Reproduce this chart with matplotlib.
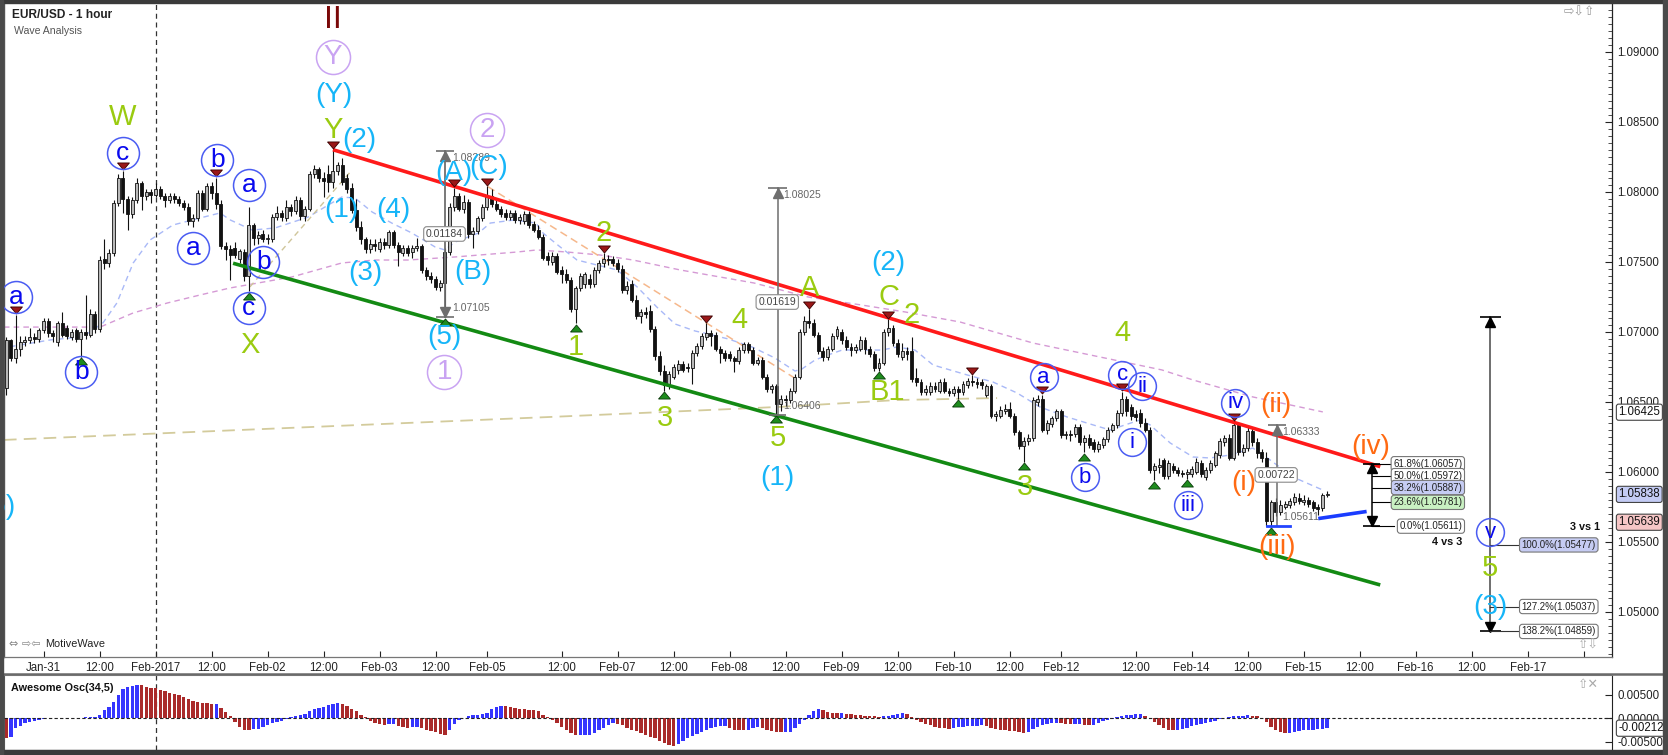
import numpy as np
import matplotlib
matplotlib.use("Agg")
import matplotlib.pyplot as plt
import matplotlib.transforms as mtransforms
from matplotlib.ticker import MultipleLocator, FixedLocator
from matplotlib.patches import Rectangle
from matplotlib.lines import Line2D

plt.rcParams['font.family'] = ['Liberation Sans', 'DejaVu Sans']

# ------------------------------------------------------------------ data
first_bar = -8   # bar index of first candle (hourly bars, weekend removed)

opens = [
 1.0660,1.0694,1.0681,1.0688,1.0693,1.0694,1.0696,1.0695,1.0701,1.0708,1.0699,1.0693,
 1.0706,1.0703,1.0696,1.0701,1.0695,1.0700,1.0698,1.0713,1.0702,1.0752,1.0749,1.0756,
 1.0792,1.0810,1.0795,1.0784,1.0794,1.0806,1.0797,1.0800,1.0798,1.0802,1.0797,1.0794,
 1.0797,1.0795,1.0792,1.0789,1.0779,1.0781,1.0799,1.0788,1.0804,1.0799,1.0791,1.0761,
 1.0759,1.0760,1.0752,1.0757,1.0740,1.0776,1.0767,1.0770,1.0766,1.0766,1.0782,1.0785,
 1.0781,1.0789,1.0786,1.0794,1.0783,1.0788,1.0813,1.0816,1.0810,1.0813,1.0807,1.0815,
 1.0819,1.0810,1.0803,1.0787,1.0775,1.0766,1.0759,1.0763,1.0759,1.0764,1.0762,1.0771,
 1.0762,1.0756,1.0760,1.0757,1.0760,1.0761,1.0744,1.0740,1.0738,1.0732,1.0735,1.0757,
 1.0789,1.0797,1.0788,1.0793,1.0770,1.0772,1.0781,1.0789,1.0797,1.0791,1.0788,1.0785,
 1.0782,1.0785,1.0780,1.0779,1.0784,1.0777,1.0773,1.0768,1.0754,1.0750,1.0754,1.0744,
 1.0741,1.0737,1.0716,1.0731,1.0734,1.0738,1.0734,1.0744,1.0749,1.0752,1.0752,1.0749,
 1.0745,1.0730,1.0734,1.0723,1.0711,1.0714,1.0715,1.0702,1.0683,1.0672,1.0662,1.0668,
 1.0673,1.0677,1.0675,1.0674,1.0685,1.0690,1.0696,1.0699,1.0698,1.0688,1.0685,1.0684,
 1.0681,1.0679,1.0687,1.0691,1.0687,1.0678,1.0680,1.0668,1.0659,1.0661,1.0648,1.0652,
 1.0651,1.0658,1.0668,1.0700,1.0708,1.0706,1.0698,1.0686,1.0682,1.0688,1.0697,1.0700,
 1.0694,1.0689,1.0687,1.0688,1.0694,1.0688,1.0684,1.0674,1.0678,1.0700,1.0703,1.0692,
 1.0682,1.0686,1.0686,1.0667,1.0664,1.0657,1.0657,1.0661,1.0658,1.0664,1.0658,1.0656,
 1.0659,1.0657,1.0662,1.0665,1.0664,1.0664,1.0655,1.0661,1.0640,1.0640,1.0643,1.0645,
 1.0640,1.0628,1.0618,1.0622,1.0624,1.0650,1.0652,1.0630,1.0634,1.0638,1.0643,1.0626,
 1.0627,1.0627,1.0632,1.0621,1.0624,1.0621,1.0616,1.0619,1.0623,1.0630,1.0633,1.0642,
 1.0652,1.0646,1.0641,1.0642,1.0635,1.0630,1.0601,1.0603,1.0608,1.0597,1.0604,1.0601,
 1.0599,1.0598,1.0598,1.0600,1.0606,1.0596,1.0601,1.0605,1.0612,1.0621,1.0624,1.0610,
 1.0633,1.0614,1.0617,1.0629,1.0621,1.0614,1.0610,1.0565,1.0578,1.0571,1.0575,1.0576,
 1.0578,1.0581,1.0578,1.0580,1.0578,1.0575,1.0574,1.0583]

highs = [
 1.0696,1.0695,1.0712,1.0697,1.0697,1.0703,1.0699,1.0703,1.0710,1.0710,1.0701,1.0708,
 1.0714,1.0705,1.0702,1.0703,1.0702,1.0726,1.0716,1.0715,1.0754,1.0766,1.0759,1.0794,
 1.0813,1.0815,1.0797,1.0796,1.0810,1.0808,1.0802,1.0802,1.0806,1.0804,1.0799,1.0799,
 1.0799,1.0797,1.0794,1.0792,1.0784,1.0801,1.0801,1.0806,1.0807,1.0810,1.0794,1.0764,
 1.0762,1.0764,1.0759,1.0759,1.0789,1.0778,1.0772,1.0773,1.0770,1.0784,1.0790,1.0787,
 1.0794,1.0791,1.0797,1.0796,1.0790,1.0815,1.0819,1.0818,1.0814,1.0819,1.0830,1.0821,
 1.0824,1.0813,1.0806,1.0795,1.0779,1.0768,1.0766,1.0766,1.0767,1.0767,1.0773,1.0773,
 1.0764,1.0762,1.0762,1.0762,1.0767,1.0763,1.0746,1.0743,1.0740,1.0737,1.0760,1.0792,
 1.0803,1.0799,1.0798,1.0795,1.0775,1.0783,1.0791,1.0804,1.0802,1.0794,1.0790,1.0788,
 1.0787,1.0787,1.0784,1.0786,1.0786,1.0779,1.0776,1.0770,1.0757,1.0757,1.0756,1.0747,
 1.0745,1.0739,1.0733,1.0742,1.0743,1.0741,1.0746,1.0751,1.0756,1.0755,1.0754,1.0752,
 1.0748,1.0736,1.0737,1.0726,1.0716,1.0718,1.0719,1.0704,1.0686,1.0676,1.0672,1.0677,
 1.0680,1.0679,1.0678,1.0687,1.0692,1.0699,1.0706,1.0701,1.0700,1.0690,1.0687,1.0686,
 1.0683,1.0689,1.0693,1.0693,1.0689,1.0682,1.0682,1.0670,1.0663,1.0663,1.0655,1.0655,
 1.0660,1.0670,1.0702,1.0711,1.0716,1.0709,1.0700,1.0689,1.0690,1.0699,1.0704,1.0702,
 1.0697,1.0692,1.0691,1.0697,1.0696,1.0690,1.0686,1.0681,1.0702,1.0709,1.0705,1.0695,
 1.0692,1.0689,1.0696,1.0674,1.0666,1.0662,1.0664,1.0664,1.0666,1.0667,1.0660,1.0661,
 1.0661,1.0665,1.0667,1.0669,1.0667,1.0666,1.0663,1.0663,1.0643,1.0647,1.0648,1.0650,
 1.0642,1.0630,1.0625,1.0627,1.0653,1.0655,1.0655,1.0637,1.0640,1.0645,1.0645,1.0629,
 1.0630,1.0634,1.0634,1.0626,1.0627,1.0623,1.0622,1.0625,1.0632,1.0635,1.0644,1.0657,
 1.0654,1.0648,1.0644,1.0645,1.0638,1.0632,1.0606,1.0610,1.0610,1.0608,1.0606,1.0603,
 1.0601,1.0602,1.0604,1.0610,1.0608,1.0603,1.0608,1.0615,1.0624,1.0626,1.0627,1.0636,
 1.0635,1.0620,1.0633,1.0631,1.0624,1.0616,1.0614,1.0580,1.0581,1.0580,1.0579,1.0581,
 1.0585,1.0585,1.0583,1.0582,1.0580,1.0577,1.0585,1.0586]

lows = [
 1.0655,1.0679,1.0678,1.0683,1.0690,1.0692,1.0692,1.0693,1.0699,1.0696,1.0693,1.0690,
 1.0696,1.0695,1.0694,1.0693,1.0682,1.0695,1.0696,1.0699,1.0700,1.0745,1.0746,1.0754,
 1.0790,1.0785,1.0773,1.0781,1.0792,1.0787,1.0794,1.0792,1.0796,1.0795,1.0789,1.0792,
 1.0792,1.0790,1.0787,1.0776,1.0775,1.0779,1.0786,1.0786,1.0795,1.0788,1.0759,1.0751,
 1.0737,1.0753,1.0749,1.0736,1.0729,1.0762,1.0763,1.0764,1.0763,1.0764,1.0780,1.0779,
 1.0779,1.0783,1.0784,1.0780,1.0779,1.0786,1.0810,1.0807,1.0796,1.0800,1.0803,1.0812,
 1.0805,1.0799,1.0785,1.0772,1.0763,1.0756,1.0756,1.0758,1.0757,1.0759,1.0760,1.0760,
 1.0747,1.0754,1.0754,1.0753,1.0758,1.0742,1.0737,1.0735,1.0730,1.0729,1.07105,1.0755,
 1.0786,1.0786,1.0785,1.0767,1.0760,1.0770,1.0779,1.0787,1.0789,1.0786,1.0782,1.0780,
 1.0780,1.0778,1.0777,1.0777,1.0774,1.0771,1.0766,1.0751,1.0748,1.0748,1.0741,1.0735,
 1.0735,1.0714,1.0706,1.0729,1.0731,1.0731,1.0732,1.0742,1.0746,1.0748,1.0747,1.0743,
 1.0728,1.0727,1.0721,1.0709,1.0706,1.0710,1.0700,1.0680,1.0669,1.0658,1.0659,1.0666,
 1.0670,1.0671,1.0671,1.0663,1.0683,1.0688,1.0694,1.0690,1.0686,1.0678,1.0679,1.0679,
 1.0671,1.0677,1.0685,1.0685,1.0676,1.0676,1.0666,1.0657,1.0656,1.06406,1.0643,1.0647,
 1.0649,1.0656,1.0666,1.0698,1.0703,1.0696,1.0684,1.0679,1.0680,1.0686,1.0695,1.0691,
 1.0687,1.0683,1.0685,1.0686,1.0684,1.0682,1.0672,1.0672,1.0676,1.0697,1.0690,1.0682,
 1.0680,1.0680,1.0664,1.0661,1.0655,1.0655,1.0655,1.0657,1.0656,1.0656,1.0654,1.0654,
 1.0652,1.0655,1.0660,1.0661,1.0660,1.0659,1.0653,1.0638,1.0636,1.0638,1.0641,1.0638,
 1.0626,1.0616,1.0607,1.0619,1.0622,1.0647,1.0628,1.0627,1.0632,1.0636,1.0624,1.0623,
 1.0622,1.0625,1.0619,1.0614,1.0617,1.0614,1.0614,1.0617,1.0621,1.0628,1.0631,1.0640,
 1.0640,1.0637,1.0636,1.0632,1.0628,1.0599,1.0594,1.0599,1.0595,1.0595,1.0599,1.0597,
 1.0596,1.0595,1.0596,1.0598,1.0596,1.0594,1.0599,1.0603,1.0610,1.0618,1.0608,1.0608,
 1.0612,1.0611,1.0615,1.0618,1.0610,1.0607,1.05611,1.0561,1.0568,1.0569,1.0573,1.0574,
 1.0576,1.0577,1.0576,1.0575,1.0572,1.0569,1.0572,1.0582]

closes = [
 1.0694,1.0681,1.0688,1.0693,1.0694,1.0696,1.0695,1.0701,1.0708,1.0699,1.0697,1.0706,
 1.0698,1.0697,1.0700,1.0695,1.0700,1.0698,1.0713,1.0702,1.0751,1.0749,1.0756,1.0792,
 1.0810,1.0795,1.0784,1.0794,1.0806,1.0797,1.0800,1.0798,1.0802,1.0797,1.0794,1.0797,
 1.0795,1.0792,1.0789,1.0779,1.0781,1.0799,1.0788,1.0804,1.0799,1.0791,1.0761,1.0759,
 1.0755,1.0755,1.0758,1.0740,1.0776,1.0767,1.0769,1.0766,1.0767,1.0782,1.0785,1.0782,
 1.0789,1.0786,1.0794,1.0783,1.0788,1.0813,1.0816,1.0810,1.0808,1.0807,1.0815,1.0819,
 1.0807,1.0802,1.0787,1.0775,1.0766,1.0759,1.0763,1.0761,1.0764,1.0762,1.0771,1.0762,
 1.0757,1.0760,1.0756,1.0760,1.0761,1.0744,1.0740,1.0738,1.0732,1.0735,1.0757,1.0789,
 1.0797,1.0788,1.0793,1.0770,1.0772,1.0781,1.0789,1.0797,1.0791,1.0788,1.0784,1.0782,
 1.0785,1.0780,1.0782,1.0784,1.0776,1.0773,1.0768,1.0753,1.0751,1.0754,1.0743,1.0741,
 1.0737,1.0716,1.0731,1.0740,1.0741,1.0734,1.0744,1.0749,1.0752,1.0751,1.0749,1.0745,
 1.0730,1.0733,1.0723,1.0711,1.0714,1.0713,1.0702,1.0683,1.0672,1.0662,1.0670,1.0675,
 1.0677,1.0673,1.0674,1.0685,1.0690,1.0697,1.0699,1.0697,1.0688,1.0685,1.0681,1.0681,
 1.0679,1.0687,1.0691,1.0687,1.0678,1.0680,1.0668,1.0659,1.0661,1.0648,1.0652,1.0651,
 1.0658,1.0668,1.0700,1.0708,1.0706,1.0698,1.0686,1.0682,1.0688,1.0697,1.0702,1.0694,
 1.0689,1.0687,1.0689,1.0694,1.0688,1.0684,1.0674,1.0678,1.0700,1.0703,1.0692,1.0684,
 1.0686,1.0684,1.0666,1.0664,1.0657,1.0659,1.0661,1.0659,1.0664,1.0658,1.0656,1.0659,
 1.0657,1.0663,1.0665,1.0664,1.0663,1.0662,1.0661,1.0640,1.0641,1.0644,1.0645,1.0640,
 1.0628,1.0618,1.0622,1.0624,1.0651,1.0652,1.0630,1.0635,1.0638,1.0643,1.0626,1.0627,
 1.0626,1.0632,1.0621,1.0624,1.0619,1.0616,1.0620,1.0623,1.0630,1.0633,1.0642,1.0652,
 1.0643,1.0640,1.0639,1.0635,1.0630,1.0601,1.0604,1.0605,1.0597,1.0606,1.0601,1.0599,
 1.0598,1.0600,1.0602,1.0607,1.0598,1.0601,1.0606,1.0613,1.0622,1.0624,1.0610,1.0633,
 1.0614,1.0617,1.0629,1.0621,1.0613,1.0610,1.0565,1.0578,1.0571,1.0576,1.0577,1.0579,
 1.0582,1.0579,1.0580,1.0577,1.0574,1.0573,1.0583,1.05838]

# Awesome oscillator, in units of 1e-4
ao_values = [
 -43,-39,-21,-16,-11,-8,-5,-3,-1,1,1,0.5,
 1,0.5,0.3,1,1,2,2,3,7,17,24,34,
 50,62,67,70,72,71,68,66,64,61,58,55,
 52,49,45,41,38,35,33,32,30,31,22,13,
 5,-8,-18,-25,-26,-23,-22,-18,-14,-11,-8,-6,
 -1,2,5,8,10,15,20,23,25,29,31,32,
 30,26,21,15,8,2,-5,-9,-12,-14,-13,-12,
 -16,-19,-20,-19,-18,-20,-25,-27,-30,-34,-35,-24,
 -12,-4,1,6,7,8,9,12,19,25,27,26,
 25,23,21,19,18,17,15,7,2,-4,-10,-18,
 -25,-31,-36,-36,-36,-35,-32,-26,-20,-14,-11,-12,
 -15,-20,-25,-28,-31,-35,-39,-43,-48,-53,-57,-59,
 -55,-49,-43,-38,-33,-29,-25,-21,-18,-17,-16,-21,
 -24,-25,-26,-24,-21,-19,-20,-24,-27,-29,-30,-30,
 -29,-20,-12,-3,8,15,19,18,14,12,11,11,
 10,9,8,7,6,5,4,3,4,6,8,10,
 11,9,3,-3,-8,-12,-15,-18,-20,-21,-22,-20,
 -19,-18,-17,-17,-16,-15,-17,-20,-22,-24,-26,-27,
 -28,-30,-31,-29,-22,-18,-15,-12,-10,-9,-11,-12,
 -13,-13,-12,-14,-15,-14,-10,-6,-3,-1,2,5,
 7,8,9,9,6,0,-8,-15,-20,-24,-25,-24,
 -22,-20,-17,-15,-13,-10,-8,-5,-2,1,3,5,
 6,6,7,6,5,1,-8,-18,-26,-30,-32,-31,
 -29,-27,-26,-25,-24,-23,-22,-21.2]

# moving averages (bar index, price)
ma_fast_bar = [-7.2,1.4,8.4,12.7,15.7,19.2,22.8,27.7,33.5,37.8,40,44.7,49.6,56.7,60.3,
               63.9,66.7,70.4,74.6,78.9,83.9,86,88.2,93.2,95.7,100.8,105.5,107,110.7,114.3,
               118.6,122.9,127.2,131.4,135.3,139.6,142.4,146.7,151.8,156.7,161,162.5,165.3,
               168.1,171.1,175.4,179.6,182.9,186.7,190.6,197.9,203.4,208.6,213.5,219.3,
               224.9,228.5,231.7,234.9,237.1,241.4,246.3,249.9,254.2,259.1,262.8,267.7,274.1]
ma_fast_val = [1.06893,1.06941,1.06964,1.07062,1.07205,1.07491,1.07655,1.07762,1.07812,1.07848,
               1.07798,1.07726,1.07741,1.07819,1.07891,1.07962,1.07955,1.07855,1.07776,1.07705,
               1.07605,1.07584,1.07641,1.07705,1.07776,1.07798,1.07776,1.07705,1.07605,1.07512,
               1.07476,1.07441,1.07319,1.07176,1.07055,1.07005,1.06984,1.06948,1.06891,1.06812,
               1.06719,1.06734,1.06798,1.06834,1.06869,1.06869,1.06869,1.06891,1.06869,1.06762,
               1.06691,1.06641,1.06562,1.06462,1.06391,1.06334,1.06298,1.06334,1.06369,1.06334,
               1.06205,1.06105,1.06098,1.06119,1.06169,1.06084,1.05962,1.05869]
ma_slow_bar = [-8.5,12.1,19.2,26.5,33.5,39.9,53.2,63.9,71,78.1,88.2,101.4,105.7,112.2,119.2,
               126.3,136.4,152.2,163.8,175.2,184.6,196.4,212,226.4,239.6,246.3,259.1,274.1]
ma_slow_val = [1.07033,1.07033,1.07134,1.07205,1.07262,1.07312,1.07391,1.07491,1.07512,1.07512,
               1.07534,1.07569,1.07584,1.07569,1.07548,1.07512,1.07441,1.07348,1.07248,1.07191,
               1.07141,1.07069,1.06919,1.06819,1.06727,1.06655,1.06534,1.06427]
ma_long_bar = [-8.5, 110, 158.4, 182.9, 204.3]
ma_long_val = [1.06227, 1.06393, 1.06464, 1.06512, 1.06526]

tick_bars = [0,12,24,36,48,60,72,84,95,111,123,135,147,159,171,183,195,207,218,234,
             246,258,270,282,294,306,318,330]
tick_labels = ["Jan-31","12:00","Feb-2017","12:00","Feb-02","12:00","Feb-03","12:00",
               "Feb-05","12:00","Feb-07","12:00","Feb-08","12:00","Feb-09","12:00",
               "Feb-10","12:00","Feb-12","12:00","Feb-14","12:00","Feb-15","12:00",
               "Feb-16","12:00","Feb-17",""]

peak_bars = [-6, 17, 37, 62, 88, 95, 120, 142, 164, 181, 199, 214, 231, 255]
trough_bars = [8, 44, 86, 114, 133, 157, 179, 196, 210, 223, 238, 245, 263]

fib_levels = [("61.8%", 1.06057), ("50.0%", 1.05972), ("38.2%", 1.05887),
              ("23.6%", 1.05781), ("0.0%", 1.05611)]
target_levels = [("100.0%", 1.05477), ("127.2%", 1.05037), ("138.2%", 1.04859)]

n = len(opens)
assert n == len(highs) == len(lows) == len(closes) == len(ao_values) == 284

# ------------------------------------------------------------------ figure
W, H = 1668, 755
fig = plt.figure(figsize=(W / 100, H / 100), dpi=100)
fig.patch.set_facecolor('white')

def fx(px):
    return px / W

def fy(py):
    return 1 - py / H

ax = fig.add_axes([fx(4), fy(657), fx(1612) - fx(4), fy(3) - fy(657)])
osc = fig.add_axes([fx(4), fy(750), fx(1612) - fx(4), fy(675) - fy(750)])

XMIN, XMAX = -8.485, 336.06
ax.set_xlim(XMIN, XMAX)
ax.set_ylim(1.046764, 1.093479)
osc.set_xlim(XMIN, XMAX)
osc.set_ylim(-0.00679, 0.00928)

bars = np.arange(first_bar, first_bar + n)
o = np.array(opens); h = np.array(highs); l = np.array(lows); c = np.array(closes)

# ---- moving averages / helper dashed lines
ax.plot(ma_long_bar, ma_long_val, color='#d3cb9c', lw=1.3, ls=(0, (7, 4)), zorder=1.2)
ax.plot(ma_slow_bar, ma_slow_val, color='#d59ad5', lw=1.0, ls=(0, (4, 3)), zorder=1.3)
ax.plot(ma_fast_bar, ma_fast_val, color='#a9b9f7', lw=1.0, ls=(0, (4, 3)), zorder=1.4)
ax.plot([44.2, 66.1], [1.07320, 1.08156], color='#cfc59a', lw=1.0, ls=(0, (4, 3)), zorder=1.5)
ax.plot([95.2, 161.6], [1.08036, 1.06655], color='#f6b88c', lw=1.1, ls=(0, (5, 3)), zorder=1.5)

# ---- candles
ax.vlines(bars, l, h, color='#111111', lw=0.8, zorder=2)
up = c >= o
blo = np.minimum(o, c)
bh = np.maximum(np.abs(c - o), 0.00004)
ax.bar(bars[up], bh[up], bottom=blo[up], width=0.64, color='#b9b9b9',
       edgecolor='#111111', linewidth=0.6, zorder=3)
ax.bar(bars[~up], bh[~up], bottom=blo[~up], width=0.64, color='#111111',
       edgecolor='#111111', linewidth=0.6, zorder=3)

# ---- vertical day separator
for a in (ax, osc):
    a.axvline(24, color='#333333', lw=0.9, ls=(0, (4, 3)), zorder=1)

# ---- channel lines
ax.plot([62, 286.4], [1.0830, 1.06036], color='#ff1a1a', lw=2.6, zorder=4, solid_capstyle='butt')
ax.plot([40.6, 286.4], [1.07489, 1.05191], color='#138a13', lw=2.6, zorder=4, solid_capstyle='butt')

# ---- swing markers
tri_down = [(-1, 0.6), (1, 0.6), (0, -0.6), (-1, 0.6)]
tri_up = [(-1, -0.6), (1, -0.6), (0, 0.6), (-1, -0.6)]
t_up = mtransforms.offset_copy(ax.transData, fig=fig, x=0, y=3.3, units='points')
t_dn = mtransforms.offset_copy(ax.transData, fig=fig, x=0, y=-3.3, units='points')
for b in peak_bars:
    ax.plot([b], [h[b - first_bar]], marker=tri_down, ms=8.5, mfc='#9a1818', mec='#3a0000',
            mew=0.6, ls='none', transform=t_up, zorder=5)
for b in trough_bars:
    ax.plot([b], [l[b - first_bar]], marker=tri_up, ms=8.5, mfc='#1e8c1e', mec='#0a3a0a',
            mew=0.6, ls='none', transform=t_dn, zorder=5)

# ---- measuring tools
def tbar(x, y, hw, color, lw=1.2):
    ax.plot([x - hw, x + hw], [y, y], color=color, lw=lw, zorder=5, solid_capstyle='butt')

def arrowhead(x, y, up_dir, color, ms=6.5):
    tr = mtransforms.offset_copy(ax.transData, fig=fig, x=0, y=(-3.4 if up_dir else 3.4), units='points')
    ax.plot([x], [y], marker='^' if up_dir else 'v', ms=ms, color=color, mec=color,
            transform=tr, ls='none', zorder=5)

def boxlabel(x, y, txt, fc='white', ha='center', size=7.5, color='#444444', ec='#8a8a8a'):
    ax.text(x, y, txt, ha=ha, va='center', fontsize=size, color=color, zorder=9,
            bbox=dict(boxstyle='round,pad=0.22,rounding_size=0.3', fc=fc, ec=ec, lw=0.8))

GR = '#6e6e6e'
# (5) -> (2) distance
ax.plot([86, 86], [1.07105, 1.08289], color=GR, lw=1.3, zorder=5)
tbar(86, 1.08289, 2.0, GR); tbar(86, 1.07105, 2.0, GR)
arrowhead(86, 1.08289, True, GR); arrowhead(86, 1.07105, False, GR)
boxlabel(85.9, 1.07698, "0.01184")
ax.text(87.6, 1.08240, "1.08289", fontsize=7.5, color='#666666', va='center', zorder=6)
ax.text(87.6, 1.07169, "1.07105", fontsize=7.5, color='#666666', va='center', zorder=6)
# wave (1) size
ax.plot([157.3, 157.3], [1.06406, 1.08025], color=GR, lw=1.1, zorder=5)
tbar(157.3, 1.08025, 2.0, GR); tbar(157.3, 1.06406, 1.8, GR)
arrowhead(157.3, 1.08025, True, GR)
boxlabel(157.2, 1.07212, "0.01619")
ax.text(158.5, 1.07976, "1.08025", fontsize=7.5, color='#666666', va='center', zorder=6)
ax.text(158.5, 1.06469, "1.06406", fontsize=7.5, color='#666666', va='center', zorder=6)
# (ii) -> (iii)
ax.plot([264.3, 264.3], [1.05611, 1.06333], color=GR, lw=1.1, zorder=5)
tbar(264.3, 1.06333, 2.0, GR)
arrowhead(264.3, 1.06333, True, GR)
boxlabel(264.1, 1.05977, "0.00722")
ax.text(265.4, 1.06284, "1.06333", fontsize=7.5, color='#666666', va='center', zorder=6)
ax.text(265.4, 1.05677, "1.05611", fontsize=7.5, color='#666666', va='center', zorder=6)

# blue helper lines
ax.plot([262.2, 267.1], [1.05615, 1.05615], color='#2244ff', lw=2.0, zorder=5)
ax.plot([273.5, 283.1], [1.05667, 1.05714], color='#1a3cff', lw=2.6, zorder=5)

# fib retracement for (iv)
FX = 284.6
ax.plot([FX, FX], [1.05611, 1.06057], color='black', lw=1.1, zorder=5)
tbar(FX, 1.06057, 1.8, 'black'); tbar(FX, 1.05611, 1.8, 'black')
arrowhead(FX, 1.06057, True, 'black'); arrowhead(FX, 1.05611, False, 'black')
fib_bg = ['white', 'white', '#c6ccf3', '#c9f1c2', 'white']
for (pct, lev), bg in zip(fib_levels, fib_bg):
    ax.plot([FX, 289.3], [lev, lev], color='black', lw=0.8, zorder=5)
    boxlabel(304.0, lev, f"{pct}({lev:.5f})", fc=bg, ha='right', size=7, color='#222222', ec='#777777')
ax.text(303.9, 1.05500, "4 vs 3", fontsize=7.8, weight='bold', ha='right', va='center', color='#111111', zorder=6)

# target projection for wave (3)
TX = 310.0
ax.plot([TX, TX], [1.04859, 1.07105], color='#555555', lw=1.2, zorder=5)
tbar(TX, 1.07105, 2.2, 'black'); tbar(TX, 1.04859, 2.2, 'black')
arrowhead(TX, 1.07105, True, 'black'); arrowhead(TX, 1.04859, False, 'black')
tgt_bg = ['#c6ccf3', 'white', 'white']
for (pct, lev), bg in zip(target_levels, tgt_bg):
    ax.plot([TX, 316.6], [lev, lev], color='#333333', lw=0.8, zorder=5)
    boxlabel(316.7, lev, f"{pct}({lev:.5f})", fc=bg, ha='left', size=7, color='#222222', ec='#777777')
ax.text(333.5, 1.05605, "3 vs 1", fontsize=7.8, weight='bold', ha='right', va='center', color='#111111', zorder=6)

# ---- wave labels
CYAN = '#16b5f8'; LIME = '#9acb10'; BLUE = '#0a0aee'; CIRC = '#4a5cf2'
ORANGE = '#ff6a12'; LAV = '#c9a3f2'; MAROON = '#7a0808'

def lbl(txt, x, y, color, size):
    ax.text(x, y, txt, color=color, fontsize=size, ha='center', va='center', zorder=8, clip_on=True)

def circled(txt, x, y, color, ec, size, ms):
    ax.plot([x], [y], 'o', ms=ms, mfc='none', mec=ec, mew=1.1, zorder=7)
    lbl(txt, x, y, color, size)

lbl("II", 62.0, 1.09226, MAROON, 23)
for t, x, y in [("(Y)", 62.2, 1.08691), ("(2)", 67.6, 1.08369), ("(1)", 63.7, 1.07869),
                ("(4)", 74.9, 1.07869), ("(3)", 68.9, 1.07419), ("(A)", 87.9, 1.08134),
                ("(C)", 95.4, 1.08176), ("(B)", 92.0, 1.07426), ("(5)", 85.9, 1.06962),
                ("(2)", 181.1, 1.07491), ("(1)", 157.3, 1.05955), ("(3)", 310.0, 1.05036),
                ("(5)", -9.7, 1.05750)]:
    lbl(t, x, y, CYAN, 20)
for t, x, y in [("W", 16.9, 1.08534), ("Y", 62.0, 1.08441), ("X", 44.2, 1.06905),
                ("2", 120.1, 1.07705), ("1", 114.0, 1.06891), ("4", 149.0, 1.07084),
                ("A", 164.1, 1.07313), ("C", 181.1, 1.07248), ("2", 185.9, 1.07119),
                ("3", 133.2, 1.06384), ("5", 157.3, 1.06241), ("B1", 180.9, 1.06569),
                ("3", 210.3, 1.05891), ("4", 231.1, 1.06991), ("5", 310.0, 1.05310)]:
    lbl(t, x, y, LIME, 21)
for t, x, y in [("a", -5.9, 1.07248), ("b", 8.1, 1.06712), ("c", 17.0, 1.08276),
                ("a", 32.0, 1.07598), ("b", 37.2, 1.08226), ("a", 44.0, 1.08048),
                ("b", 47.1, 1.07498), ("c", 44.0, 1.07169)]:
    circled(t, x, y, BLUE, CIRC, 19, 23)
for t, x, y in [("a", 214.3, 1.06676), ("b", 223.1, 1.05962), ("c", 231.1, 1.06691),
                ("ii", 235.4, 1.06612), ("i", 233.2, 1.06212), ("iii", 245.2, 1.05762),
                ("iv", 255.3, 1.06491), ("v", 310.0, 1.05567)]:
    circled(t, x, y, BLUE, CIRC, 16, 20)
for t, x, y in [("Y", 62.0, 1.08962), ("2", 95.1, 1.08441), ("1", 85.9, 1.06712)]:
    circled(t, x, y, LAV, LAV, 20, 24.5)
for t, x, y in [("(ii)", 264.1, 1.06476), ("(i)", 257.2, 1.05919),
                ("(iii)", 264.3, 1.05462), ("(iv)", 284.3, 1.06176)]:
    lbl(t, x, y, ORANGE, 20)

# ---- axes styling (price)
ax.set_facecolor('white')
ax.xaxis.set_major_locator(FixedLocator(tick_bars))
ax.set_xticklabels(tick_labels)
ax.tick_params(axis='x', direction='in', length=4, width=0.8, pad=3.5, labelsize=8.3,
               colors='#222222', top=False)
ax.yaxis.tick_right()
ax.yaxis.set_major_locator(MultipleLocator(0.005))
ax.yaxis.set_minor_locator(MultipleLocator(0.0005))
ax.yaxis.set_major_formatter(matplotlib.ticker.FormatStrFormatter('%.5f'))
ax.tick_params(axis='y', which='major', direction='in', length=5, width=0.8, pad=4,
               labelsize=8.3, colors='#222222', left=False, right=True)
ax.tick_params(axis='y', which='minor', direction='in', length=3, width=0.6,
               colors='#333333', left=False, right=True)
for s in ('top',):
    ax.spines[s].set_visible(False)
ax.spines['right'].set_color('#222222'); ax.spines['right'].set_linewidth(0.9)
ax.spines['bottom'].set_color('#777777'); ax.spines['bottom'].set_linewidth(0.9)
ax.spines['left'].set_color('#555555'); ax.spines['left'].set_linewidth(1.0)

# price tags on axis
bt = mtransforms.blended_transform_factory(ax.transAxes, ax.transData)
for val, fc in [(1.06425, 'white'), (1.05838, '#c3cbf4'), (1.05639, '#f6c6c6')]:
    ax.text(1.004, val, f"{val:.5f}", transform=bt, fontsize=8.3, ha='left', va='center',
            color='#111111', zorder=10, clip_on=False,
            bbox=dict(boxstyle='round,pad=0.18,rounding_size=0.2', fc=fc, ec='#444444', lw=0.8))

# ---- oscillator
ao = np.array(ao_values) * 1e-4
col = ['#aa2a2a'] + ['#3535ff' if ao[i] >= ao[i - 1] else '#aa2a2a' for i in range(1, n)]
osc.bar(bars, ao, width=0.72, color=col, edgecolor='none', zorder=2)
osc.axhline(0, color='#222222', lw=0.8, ls=(0, (3, 2)), zorder=3)
osc.set_xticks([])
osc.yaxis.tick_right()
osc.set_yticks([0.005, 0.0, -0.005])
osc.set_yticklabels(["0.00500", "0.00000", "-0.00500"])
osc.tick_params(axis='y', direction='in', length=5, width=0.8, pad=4, labelsize=8.3,
                colors='#222222', left=False, right=True)
osc.spines['top'].set_color('#999999')
osc.spines['right'].set_color('#222222')
osc.spines['left'].set_color('#555555')
osc.spines['bottom'].set_color('#555555')
obt = mtransforms.blended_transform_factory(osc.transAxes, osc.transData)
osc.text(1.004, -0.00212, "-0.00212", transform=obt, fontsize=8.3, ha='left', va='center',
         color='#111111', zorder=10, clip_on=False,
         bbox=dict(boxstyle='round,pad=0.18,rounding_size=0.2', fc='white', ec='#444444', lw=0.8))

# ---- texts and chrome
fig.text(fx(12), fy(15), "EUR/USD - 1 hour", fontsize=8.6, weight='bold', color='#222222', va='center')
fig.text(fx(14), fy(31), "Wave Analysis", fontsize=7.6, color='#555555', va='center')
fig.text(fx(9), fy(644), "\u21d4 \u21e8\u21e6", fontsize=8, color='#888888', va='center', family='DejaVu Sans')
fig.text(fx(45), fy(644), "MotiveWave", fontsize=7.8, color='#222222', va='center')
fig.text(fx(11), fy(688), "Awesome Osc(34,5)", fontsize=7.8, weight='bold', color='#111111', va='center')
fig.text(fx(1564), fy(12), "\u21e8\u21e9\u21e7", fontsize=9, color='#999999', va='center', family='DejaVu Sans')
fig.text(fx(1578), fy(645), "\u21e7\u21e9", fontsize=9, color='#aaaaaa', va='center', family='DejaVu Sans')
fig.text(fx(1578), fy(684), "\u21e7\u2715", fontsize=9, color='#aaaaaa', va='center', family='DejaVu Sans')

fig.add_artist(Line2D([0, 1], [fy(673.5), fy(673.5)], transform=fig.transFigure, color='#6a6a6a', lw=1.8))
fig.add_artist(Rectangle((0, fy(3)), 1, 3 / H, transform=fig.transFigure, color='#3a3a3a', zorder=20))
fig.add_artist(Rectangle((0, 0), 1, 5 / H, transform=fig.transFigure, color='#3a3a3a', zorder=20))
fig.add_artist(Rectangle((0, 0), 3 / W, 1, transform=fig.transFigure, color='#4a4a4a', zorder=20))
fig.add_artist(Rectangle((1 - 5 / W, 0), 5 / W, 1, transform=fig.transFigure, color='#4a4a4a', zorder=20))

fig.savefig("out.png", dpi=100, facecolor='white')
